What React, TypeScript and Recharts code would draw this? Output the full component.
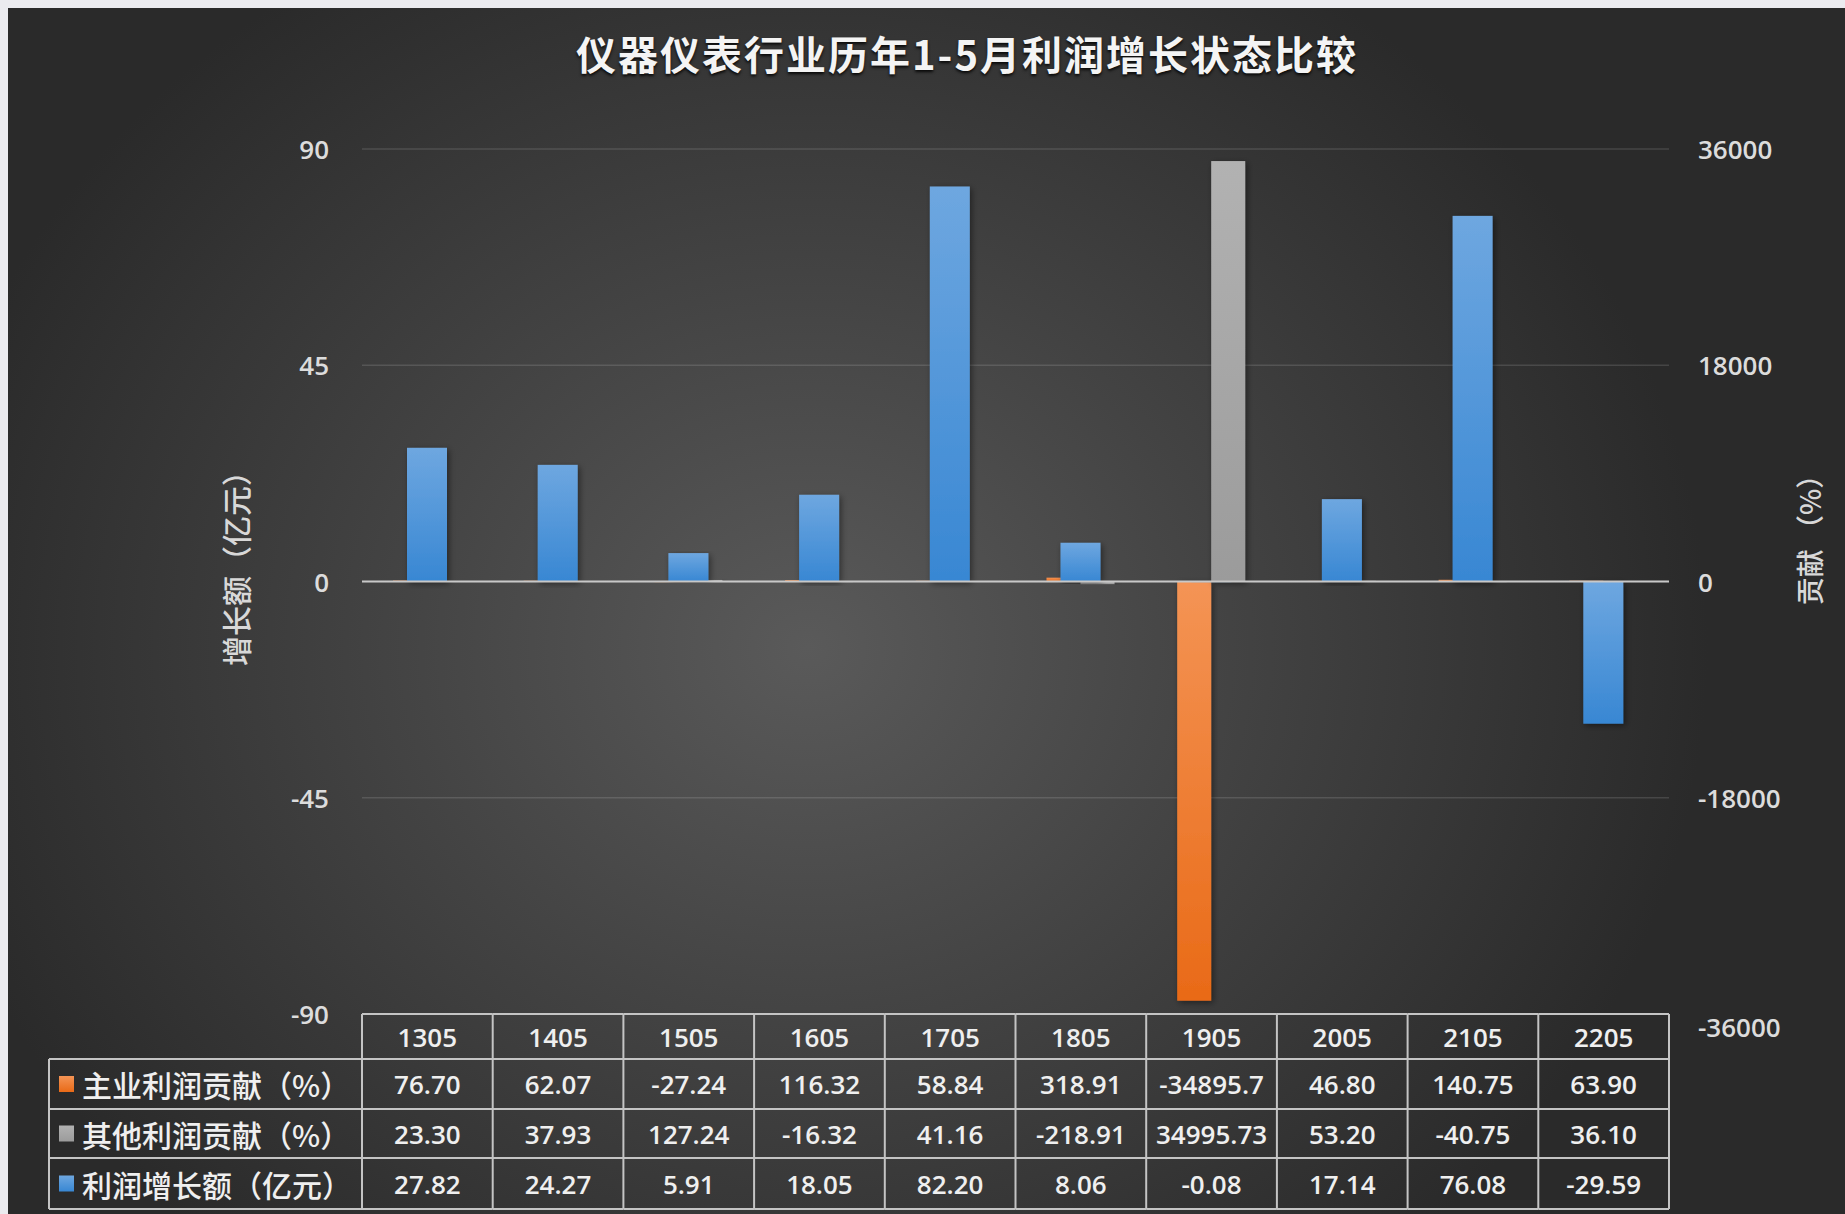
import React from 'react';
import { BarChart, Bar, XAxis, YAxis, CartesianGrid, ReferenceLine } from 'recharts';

const categories = ['1305', '1405', '1505', '1605', '1705', '1805', '1905', '2005', '2105', '2205'];
const mainContribution = [76.7, 62.07, -27.24, 116.32, 58.84, 318.91, -34895.7, 46.8, 140.75, 63.9];
const otherContribution = [23.3, 37.93, 127.24, -16.32, 41.16, -218.91, 34995.73, 53.2, -40.75, 36.1];
const profitGrowth = [27.82, 24.27, 5.91, 18.05, 82.2, 8.06, -0.08, 17.14, 76.08, -29.59];
const leftTicks = [-90, -45, 0, 45, 90];
const rightTicks = [-36000, -18000, 0, 18000, 36000];
const seriesNames = ['主业利润贡献（%）', '其他利润贡献（%）', '利润增长额（亿元）'];
const seriesColors = ['url(#gOrange)', 'url(#gGray)', 'url(#gBlue)'];

const data = categories.map((c, i) => ({
  cat: c,
  main: mainContribution[i],
  other: otherContribution[i],
  growth: profitGrowth[i],
}));

const W = 1837;
const H = 1206;
const CELL_W = 130.7;
const ROW_B = [0, 45, 95, 144, 195];
const LEGEND_W = 313;
const BORDER = '#c4c4c4';
const TEXT = '#efefef';
const NUM_FONT = '"Open Sans", "Liberation Sans", sans-serif';
const CJK_FONT = '"Noto Sans CJK SC", "Noto Sans", sans-serif';

const fmt = (v: number) => {
  const s = v.toFixed(2);
  return s.length > 8 ? v.toFixed(1) : s;
};

const makeShape = (grad: string) => (props: any) => {
  const { x, y, width, height } = props;
  if (x == null || y == null || width == null || height == null) return <g />;
  const top = height < 0 ? y + height : y;
  const h = Math.max(Math.abs(height), 0.6);
  return <rect x={x} y={top} width={width} height={h} fill={grad} filter="url(#barShadow)" />;
};

const LeftTick = (props: any) => {
  const { x, y, payload } = props;
  return (
    <text x={x} y={y} textAnchor="end" dominantBaseline="central" fill="#dcdcdc"
      style={{ fontFamily: NUM_FONT, fontSize: 26, fontWeight: 600 }}>
      {payload.value}
    </text>
  );
};

const RightTick = (props: any) => {
  const { x, y, payload } = props;
  const dy = payload.value === -36000 ? 13 : 0;
  return (
    <text x={x} y={y + dy} textAnchor="start" dominantBaseline="central" fill="#dcdcdc"
      style={{ fontFamily: NUM_FONT, fontSize: 26, fontWeight: 600 }}>
      {payload.value}
    </text>
  );
};

const TableTick = (props: any) => {
  const { x, y, payload } = props;
  const i = categories.indexOf(String(payload.value));
  if (i < 0) return <g />;
  const left = x - CELL_W / 2;
  const right = x + CELL_W / 2;
  const values = [categories[i], fmt(mainContribution[i]), fmt(otherContribution[i]), fmt(profitGrowth[i])];
  const bottom = y + ROW_B[ROW_B.length - 1];
  return (
    <g>
      <line x1={left} x2={left} y1={y} y2={bottom} stroke={BORDER} strokeWidth={2} />
      {i === categories.length - 1 && (
        <line x1={right} x2={right} y1={y} y2={bottom} stroke={BORDER} strokeWidth={2} />
      )}
      {ROW_B.map((b, k) => (
        <line key={k} x1={left} x2={right} y1={y + b} y2={y + b} stroke={BORDER} strokeWidth={2} />
      ))}
      {values.map((v, k) => (
        <text key={k} x={x} y={y + (ROW_B[k] + ROW_B[k + 1]) / 2} textAnchor="middle"
          dominantBaseline="central" fill={TEXT} style={{ fontFamily: NUM_FONT, fontSize: 26, fontWeight: 600 }}>
          {v}
        </text>
      ))}
      {i === 0 && (
        <g>
          <line x1={left - LEGEND_W} x2={left - LEGEND_W} y1={y + ROW_B[1]} y2={bottom} stroke={BORDER} strokeWidth={2} />
          {ROW_B.slice(1).map((b, k) => (
            <line key={k} x1={left - LEGEND_W} x2={left} y1={y + b} y2={y + b} stroke={BORDER} strokeWidth={2} />
          ))}
          {seriesNames.map((n, k) => {
            const cy = y + (ROW_B[k + 1] + ROW_B[k + 2]) / 2;
            return (
              <g key={n}>
                <rect x={left - 303} y={cy - 8} width={15} height={16} fill={seriesColors[k]} />
                <text x={left - 280} y={cy} dominantBaseline="central" fill={TEXT}
                  style={{ fontFamily: CJK_FONT, fontSize: 30, fontWeight: 500 }}>
                  {n}
                </text>
              </g>
            );
          })}
        </g>
      )}
    </g>
  );
};

export default function App() {
  return (
    <div style={{ position: 'absolute', left: 0, top: 0, width: 1845, height: 1214, background: '#ebebef' }}>
      <div
        style={{
          position: 'absolute',
          left: 8,
          top: 8,
          width: W,
          height: H,
          background: 'radial-gradient(ellipse 900px 800px at 800px 640px, #5a5a5a 0%, #444444 45%, #2a2a2a 100%)',
          overflow: 'hidden',
        }}
      >
        <BarChart
          width={W}
          height={H}
          data={data}
          margin={{ top: 141, right: 76, bottom: 6, left: 254 }}
          barGap={0}
        >
          <defs>
            <linearGradient id="gBlue" x1="0" y1="0" x2="0" y2="1">
              <stop offset="0%" stopColor="#6ea7e0" />
              <stop offset="100%" stopColor="#3887d3" />
            </linearGradient>
            <linearGradient id="gOrange" x1="0" y1="0" x2="0" y2="1">
              <stop offset="0%" stopColor="#f49455" />
              <stop offset="100%" stopColor="#e96a17" />
            </linearGradient>
            <linearGradient id="gGray" x1="0" y1="0" x2="0" y2="1">
              <stop offset="0%" stopColor="#b2b2b2" />
              <stop offset="100%" stopColor="#9b9b9b" />
            </linearGradient>
            <filter id="barShadow" x="-30%" y="-5%" width="160%" height="110%">
              <feDropShadow dx="2" dy="2" stdDeviation="3" floodColor="#000" floodOpacity="0.45" />
            </filter>
          </defs>
          <CartesianGrid yAxisId="left" xAxisId="a" vertical={false} stroke="rgba(255,255,255,0.13)" strokeWidth={1.5} />
          <XAxis
            xAxisId="a"
            dataKey="cat"
            height={194}
            tickSize={0}
            tickMargin={0}
            axisLine={false}
            tickLine={false}
            interval={0}
            tick={<TableTick />}
          />
          <XAxis xAxisId="b" dataKey="cat" hide />
          <YAxis
            yAxisId="left"
            orientation="left"
            width={100}
            domain={[-90, 90]}
            ticks={leftTicks}
            axisLine={false}
            tickLine={false}
            tickSize={0}
            tickMargin={33}
            tick={<LeftTick />}
          />
          <YAxis
            yAxisId="right"
            orientation="right"
            width={100}
            domain={[-36000, 36000]}
            ticks={rightTicks}
            axisLine={false}
            tickLine={false}
            tickSize={0}
            tickMargin={29}
            tick={<RightTick />}
          />
          <Bar xAxisId="a" yAxisId="right" dataKey="main" name={seriesNames[0]} barSize={34}
            shape={makeShape('url(#gOrange)')} isAnimationActive={false} />
          <Bar xAxisId="a" yAxisId="right" dataKey="other" name={seriesNames[1]} barSize={34}
            shape={makeShape('url(#gGray)')} isAnimationActive={false} />
          <Bar xAxisId="b" yAxisId="left" dataKey="growth" name={seriesNames[2]} barSize={40}
            shape={makeShape('url(#gBlue)')} isAnimationActive={false} />
          <ReferenceLine xAxisId="a" yAxisId="left" y={0} stroke="#c8c8c8" strokeWidth={2} />
        </BarChart>
        <div
          style={{
            position: 'absolute',
            left: 959,
            top: 45,
            transform: 'translate(-50%, -50%)',
            whiteSpace: 'nowrap',
            fontFamily: CJK_FONT,
            fontSize: 40,
            fontWeight: 700,
            letterSpacing: 2,
            color: '#f4f4f4',
            textShadow: '0 2px 3px rgba(0,0,0,0.85)',
            lineHeight: 1,
          }}
        >
          仪器仪表行业历年1-5月利润增长状态比较
        </div>
        <div
          style={{
            position: 'absolute',
            left: 227,
            top: 553,
            transform: 'translate(-50%, -50%) rotate(-90deg)',
            whiteSpace: 'nowrap',
            fontFamily: CJK_FONT,
            fontSize: 30,
            fontWeight: 500,
            color: '#d8d8d8',
            lineHeight: 1,
          }}
        >
          增长额（亿元）
        </div>
        <div
          style={{
            position: 'absolute',
            left: 1801,
            top: 525,
            transform: 'translate(-50%, -50%) rotate(-90deg)',
            whiteSpace: 'nowrap',
            fontFamily: CJK_FONT,
            fontSize: 28,
            fontWeight: 500,
            color: '#d8d8d8',
            lineHeight: 1,
          }}
        >
          贡献 （%）
        </div>
      </div>
    </div>
  );
}
